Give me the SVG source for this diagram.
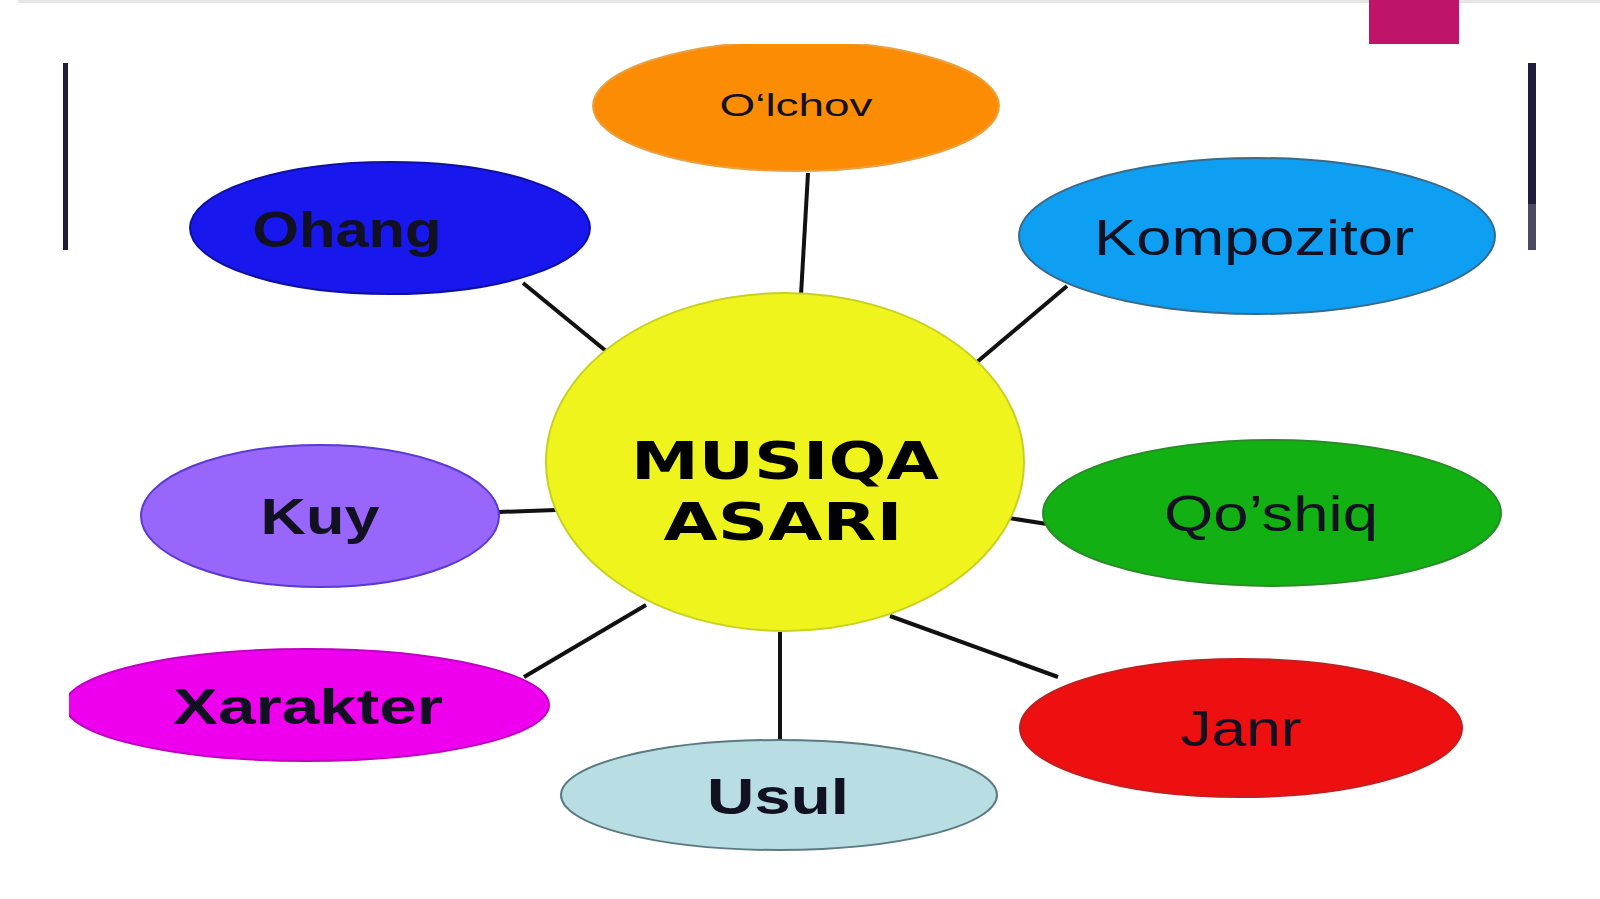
<svg xmlns="http://www.w3.org/2000/svg" width="1600" height="899" viewBox="0 0 1600 899">
<defs>
<style>
.lbl{font-family:"Liberation Sans",Arial,sans-serif;text-anchor:middle;fill:#111122;font-size:50px}
.b{font-weight:bold}
.node{stroke-width:2}
.conn line{stroke:#111111;stroke-width:4;stroke-linecap:butt}
.title{font-family:"DejaVu Sans","Liberation Sans",sans-serif;font-weight:bold;text-anchor:middle;fill:#000;font-size:52px}
</style>
<clipPath id="topclip"><rect x="0" y="44" width="1600" height="855"/></clipPath>
<clipPath id="leftclip"><rect x="69" y="0" width="1531" height="899"/></clipPath>
</defs>
<rect width="1600" height="899" fill="#ffffff"/>
<rect x="18" y="0" width="1582" height="3" fill="#e6e6e6"/>
<rect x="1369" y="0" width="90" height="44" fill="#c0146a"/>
<rect x="63" y="63" width="5" height="187" fill="#1e1e3c"/>
<rect x="1528" y="63" width="8" height="141" fill="#1e1e3c"/>
<rect x="1528" y="204" width="8" height="46" fill="#4a4a60"/>

<g class="conn" id="connectors">
<line x1="808" y1="173" x2="801" y2="295"/>
<line x1="523" y1="283" x2="606" y2="351"/>
<line x1="1067" y1="286" x2="977" y2="362"/>
<line x1="499" y1="512" x2="556" y2="510"/>
<line x1="1009" y1="518" x2="1047" y2="524"/>
<line x1="524" y1="677" x2="646" y2="605"/>
<line x1="780" y1="632" x2="780" y2="742"/>
<line x1="890" y1="616" x2="1058" y2="677"/>
</g>

<g id="olchov">
<ellipse class="node" cx="796" cy="106" rx="203" ry="65" fill="#fb8c04" stroke="#e8a040" clip-path="url(#topclip)"/>
<text class="lbl" x="796" y="116" style="font-size:31px" textLength="153" lengthAdjust="spacingAndGlyphs">O‘lchov</text>
</g>
<g id="ohang">
<ellipse class="node" cx="390" cy="228" rx="200" ry="66" fill="#1818ee" stroke="#1010a0"/>
<text class="lbl b" x="347" y="247" fill="#101040" textLength="189" lengthAdjust="spacingAndGlyphs">Ohang</text>
</g>
<g id="kompozitor">
<ellipse class="node" cx="1257" cy="236" rx="238" ry="78" fill="#0f9ff2" stroke="#3a6a8a"/>
<text class="lbl" x="1254" y="255" textLength="320" lengthAdjust="spacingAndGlyphs">Kompozitor</text>
</g>
<g id="musiqa-asari">
<ellipse class="node" cx="785" cy="462" rx="239" ry="169" fill="#eff51c" stroke="#c8d020"/>
<text class="title" x="785" y="479" textLength="308" lengthAdjust="spacingAndGlyphs">MUSIQA</text>
<text class="title" x="783" y="540" textLength="239" lengthAdjust="spacingAndGlyphs">ASARI</text>
</g>
<g id="kuy">
<ellipse class="node" cx="320" cy="516" rx="179" ry="71" fill="#9966fb" stroke="#5a3ad0"/>
<text class="lbl b" x="320" y="534" textLength="119" lengthAdjust="spacingAndGlyphs">Kuy</text>
</g>
<g id="qoshiq">
<ellipse class="node" cx="1272" cy="513" rx="229" ry="73" fill="#12b012" stroke="#2a8a2a"/>
<text class="lbl" x="1271" y="531" textLength="214" lengthAdjust="spacingAndGlyphs">Qo’shiq</text>
</g>
<g id="xarakter">
<ellipse class="node" cx="307" cy="705" rx="242" ry="56" fill="#ee00ee" stroke="#c000c0" clip-path="url(#leftclip)"/>
<text class="lbl b" x="308" y="724" textLength="270" lengthAdjust="spacingAndGlyphs">Xarakter</text>
</g>
<g id="usul">
<ellipse class="node" cx="779" cy="795" rx="218" ry="55" fill="#b8dee4" stroke="#5a7a80"/>
<text class="lbl b" x="778" y="814" textLength="142" lengthAdjust="spacingAndGlyphs">Usul</text>
</g>
<g id="janr">
<ellipse class="node" cx="1241" cy="728" rx="221" ry="69" fill="#ee1010" stroke="#c02020"/>
<text class="lbl" x="1241" y="746" textLength="121" lengthAdjust="spacingAndGlyphs">Janr</text>
</g>
</svg>
